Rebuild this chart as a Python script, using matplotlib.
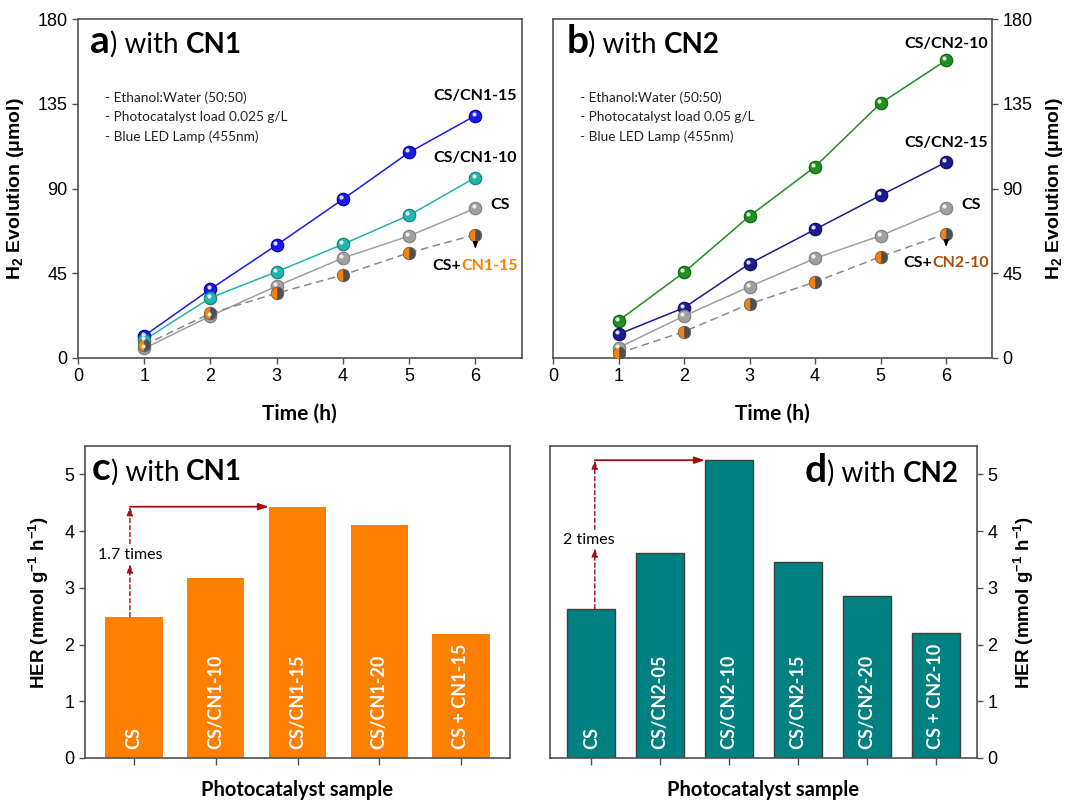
import matplotlib
matplotlib.use('Agg')
import matplotlib.pyplot as plt
import matplotlib.transforms as mtrans

plt.rcParams['font.family'] = 'Liberation Sans'
plt.rcParams['mathtext.fontset'] = 'custom'
plt.rcParams['mathtext.rm'] = 'Liberation Sans'
plt.rcParams['mathtext.bf'] = 'Liberation Sans:bold'

# ---- data ----
time_h = [1, 2, 3, 4, 5, 6]

# panel a (CN1)
cs_cn1_15 = [11.8, 36.6, 60.0, 84.3, 109.2, 128.7]
cs_cn1_10 = [9.6, 32.0, 45.8, 60.4, 75.8, 95.8]
cs_a = [5.1, 22.3, 38.2, 53.1, 64.8, 79.5]
mix_cn1_15 = [6.9, 23.7, 34.4, 44.1, 55.9, 65.5]

# panel b (CN2)
cs_cn2_10 = [19.8, 45.5, 75.4, 101.6, 135.3, 158.1]
cs_cn2_15 = [12.6, 26.7, 50.1, 68.3, 86.4, 104.0]
cs_b = [5.5, 22.3, 37.9, 52.9, 65.0, 79.5]
mix_cn2_10 = [2.5, 14.0, 28.7, 40.4, 53.8, 66.0]

# panels c, d (HER)
samples_cn1 = ['CS', 'CS/CN1-10', 'CS/CN1-15', 'CS/CN1-20', 'CS + CN1-15']
her_cn1 = [2.49, 3.18, 4.43, 4.10, 2.18]
samples_cn2 = ['CS', 'CS/CN2-05', 'CS/CN2-10', 'CS/CN2-15', 'CS/CN2-20', 'CS + CN2-10']
her_cn2 = [2.63, 3.62, 5.25, 3.46, 2.85, 2.20]

conditions_a = ['- Ethanol:Water (50:50)', '- Photocatalyst load 0.025 g/L', '- Blue LED Lamp (455nm)']
conditions_b = ['- Ethanol:Water (50:50)', '- Photocatalyst load 0.05 g/L', '- Blue LED Lamp (455nm)']

CAL = 'Lato'
SPINE = '#505050'
DARKRED = '#A01010'

fig = plt.figure(figsize=(10.69, 8.0), dpi=100)
ax_a = fig.add_axes([0.073, 0.5525, 0.415, 0.4237])
ax_b = fig.add_axes([0.5173, 0.5525, 0.4107, 0.4237])
ax_c = fig.add_axes([0.0795, 0.0525, 0.3976, 0.39])
ax_d = fig.add_axes([0.5145, 0.0525, 0.3994, 0.39])
renderer = fig.canvas.get_renderer()


def rich(ax, x, y, parts, transform, ha='left'):
    """draw text pieces side by side on one baseline"""
    texts = []
    for s, kw in parts:
        texts.append(ax.text(0, 0, s, transform=transform, va='baseline', **kw))
    widths = [t.get_window_extent(renderer).width for t in texts]
    px, py = transform.transform((x, y))
    if ha == 'center':
        px -= sum(widths) / 2
    inv = transform.inverted()
    for t, w in zip(texts, widths):
        t.set_position(inv.transform((px, py)))
        px += w


def style(ax, side='left'):
    for sp in ax.spines.values():
        sp.set_color(SPINE)
        sp.set_linewidth(1.2)
    ax.tick_params(direction='out', length=4, width=1, color=SPINE, labelsize=13)
    if side == 'right':
        ax.yaxis.tick_right()
        ax.yaxis.set_label_position('right')


def sphere(ax, x, y, color, edge, ls='-', lw=1.1, ms=9):
    ax.plot(x, y, ls=ls, color=color, lw=lw, zorder=2)
    ax.plot(x, y, 'o', ms=ms, mfc=color, mec=edge, mew=0.8, zorder=3)
    off = mtrans.offset_copy(ax.transData, fig=fig, x=-1.2, y=1.4, units='points')
    ax.plot(x, y, 'o', ms=3, mfc='white', mec='none', alpha=0.85, transform=off, zorder=4)


def halfball(ax, x, y):
    ax.plot(x, y, ls=(0, (5, 3)), color='#8a8a8a', lw=1.1, zorder=2)
    ax.plot(x, y, 'o', ms=9, fillstyle='left', mfc='#FF7F00', mfcalt='#505050',
            mec='#606060', mew=0.6, zorder=3)


# ---- panel a ----
sphere(ax_a, time_h, cs_cn1_15, '#1a1aee', '#0000a0')
sphere(ax_a, time_h, cs_cn1_10, '#22b5ad', '#148078')
sphere(ax_a, time_h, cs_a, '#a0a0a0', '#808080')
halfball(ax_a, time_h, mix_cn1_15)

# ---- panel b ----
sphere(ax_b, time_h, cs_cn2_10, '#1f8f1f', '#0d600d')
sphere(ax_b, time_h, cs_cn2_15, '#1c1c90', '#0c0c60')
sphere(ax_b, time_h, cs_b, '#a0a0a0', '#808080')
halfball(ax_b, time_h, mix_cn2_10)

for ax, side in [(ax_a, 'left'), (ax_b, 'right')]:
    style(ax, side)
    ax.set_xlim(0, 6.7)
    ax.set_ylim(0, 180)
    ax.set_xticks(range(0, 7))
    ax.set_yticks([0, 45, 90, 135, 180])
    ax.set_xlabel('Time (h)', family=CAL, fontweight='bold', fontsize=15, labelpad=13)
    ax.set_ylabel(r'H$_\mathbf{2}$ Evolution (μmol)', fontweight='bold', fontsize=14,
                  labelpad=8)

bold_lbl = dict(family=CAL, fontweight='bold', fontsize=11.5, ha='center', va='center')
ax_a.text(6, 139, 'CS/CN1-15', **bold_lbl)
ax_a.text(6, 106, 'CS/CN1-10', **bold_lbl)
ax_a.text(6.38, 81.3, 'CS', **bold_lbl)
rich(ax_a, 6, 46.5, [('CS+', dict(family=CAL, fontweight='bold', fontsize=11.5)),
                     ('CN1-15', dict(family=CAL, fontweight='bold', fontsize=11.5, color='#FF7F00'))],
     ax_a.transData, ha='center')
ax_a.annotate('', xy=(6, 56.5), xytext=(6, 62),
              arrowprops=dict(arrowstyle='-|>,head_length=0.4,head_width=0.15', color='black', lw=0.8))

ax_b.text(6, 167, 'CS/CN2-10', **bold_lbl)
ax_b.text(6, 114, 'CS/CN2-15', **bold_lbl)
ax_b.text(6.38, 81.3, 'CS', **bold_lbl)
rich(ax_b, 6, 48.2, [('CS+', dict(family=CAL, fontweight='bold', fontsize=11.5)),
                     ('CN2-10', dict(family=CAL, fontweight='bold', fontsize=11.5, color='#A85008'))],
     ax_b.transData, ha='center')
ax_b.annotate('', xy=(6, 57.5), xytext=(6, 62.5),
              arrowprops=dict(arrowstyle='-|>,head_length=0.4,head_width=0.15', color='black', lw=0.8))

for ax, conds in [(ax_a, conditions_a), (ax_b, conditions_b)]:
    for i, s in enumerate(conds):
        ax.text(0.41, 138.4 - i * 10.5, s, family=CAL, fontsize=9.8, va='center', color='#222222')

rich(ax_a, 0.027, 0.90, [('a', dict(family=CAL, fontweight='bold', fontsize=28)),
                         (') with ', dict(family=CAL, fontsize=20)),
                         ('CN1', dict(family=CAL, fontweight='bold', fontsize=20))], ax_a.transAxes)
rich(ax_b, 0.03, 0.90, [('b', dict(family=CAL, fontweight='bold', fontsize=28)),
                        (') with ', dict(family=CAL, fontsize=20)),
                        ('CN2', dict(family=CAL, fontweight='bold', fontsize=20))], ax_b.transAxes)

# ---- panels c, d ----
xc = list(range(len(samples_cn1)))
ax_c.bar(xc, her_cn1, width=0.7, color='#FF8000', edgecolor='none', zorder=2)
xd = list(range(len(samples_cn2)))
ax_d.bar(xd, her_cn2, width=0.7, color='#008080', edgecolor='#404040', linewidth=1, zorder=2)

for ax, xs, names, side in [(ax_c, xc, samples_cn1, 'left'), (ax_d, xd, samples_cn2, 'right')]:
    style(ax, side)
    ax.set_xlim(-0.6, len(xs) - 0.4)
    ax.set_ylim(0, 5.5)
    ax.set_xticks(xs)
    ax.set_xticklabels([])
    ax.tick_params(axis='x', length=5)
    ax.set_yticks(range(0, 6))
    ax.set_xlabel('Photocatalyst sample', family=CAL, fontweight='bold', fontsize=14.5, labelpad=7)
    ax.set_ylabel(r'HER (mmol g$^{\mathbf{-1}}$ h$^{\mathbf{-1}}$)', fontweight='bold',
                  fontsize=13.5, labelpad=10)
    for x, name in zip(xs, names):
        ax.text(x, 0.15, name, rotation=90, ha='center', va='bottom', color='white',
                family=CAL, fontweight='bold', fontsize=13, zorder=5)

dash_arrow = dict(arrowstyle='-|>,head_length=0.5,head_width=0.18', color=DARKRED, lw=1,
                  linestyle=(0, (3, 2)), shrinkA=0, shrinkB=0)
solid_arrow = dict(arrowstyle='-|>,head_length=0.6,head_width=0.2', color=DARKRED, lw=1.3,
                   shrinkA=0, shrinkB=0)

# panel c arrows
ax_c.annotate('', xy=(-0.05, 3.42), xytext=(-0.05, her_cn1[0]), arrowprops=dash_arrow)
ax_c.annotate('', xy=(-0.05, her_cn1[2]), xytext=(-0.05, 3.78), arrowprops=dash_arrow)
ax_c.annotate('', xy=(2 - 0.35, her_cn1[2]), xytext=(-0.05, her_cn1[2]), arrowprops=solid_arrow)
ax_c.text(-0.05, 3.58, '1.7 times', family=CAL, fontsize=11.5, ha='center', va='center')

# panel d arrows
ax_d.annotate('', xy=(0.05, 3.7), xytext=(0.05, her_cn2[0]), arrowprops=dash_arrow)
ax_d.annotate('', xy=(0.05, her_cn2[2]), xytext=(0.05, 4.03), arrowprops=dash_arrow)
ax_d.annotate('', xy=(2 - 0.35, her_cn2[2]), xytext=(0.05, her_cn2[2]), arrowprops=solid_arrow)
ax_d.text(-0.04, 3.85, '2 times', family=CAL, fontsize=11.5, ha='center', va='center')

rich(ax_c, 0.016, 0.89, [('c', dict(family=CAL, fontweight='bold', fontsize=28)),
                         (') with ', dict(family=CAL, fontsize=20)),
                         ('CN1', dict(family=CAL, fontweight='bold', fontsize=20))], ax_c.transAxes)
rich(ax_d, 0.597, 0.886, [('d', dict(family=CAL, fontweight='bold', fontsize=28)),
                          (') with ', dict(family=CAL, fontsize=20)),
                          ('CN2', dict(family=CAL, fontweight='bold', fontsize=20))], ax_d.transAxes)

fig.savefig('out.png', dpi=100)
